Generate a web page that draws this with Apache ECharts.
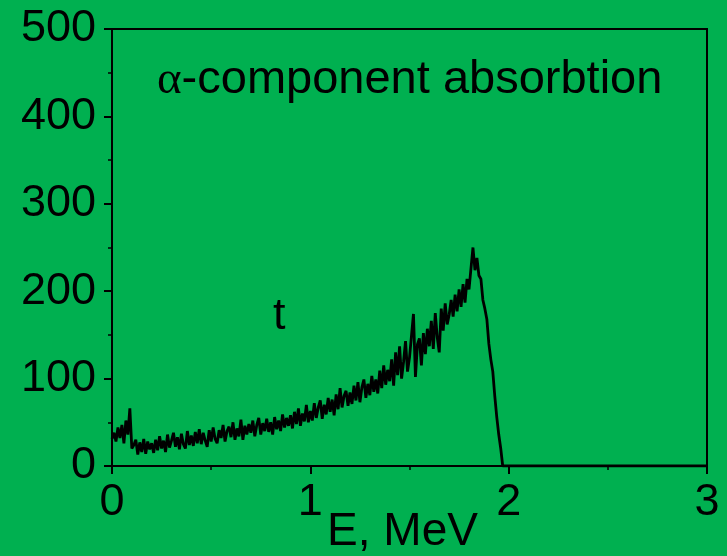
<!DOCTYPE html>
<html>
<head>
    <meta charset="UTF-8">
    <title>alpha-component absorbtion</title>
    <style>
        html, body {
            height: 100%;
            margin: 0;
            padding: 0;
            background: #00b050;
        }
        #chart-container {
            width: 727px;
            height: 556px;
        }
    </style>
</head>
<body>
<div id="chart-container"></div>

<script src="https://cdn.jsdelivr.net/npm/echarts@6/dist/echarts.min.js"></script>
<script>
    // 能谱数据：从 0 MeV 开始，每 0.01 MeV 一个点
    const startE = 0;
    const stepE = 0.01;
    const counts = [
        31, 38, 28, 44, 32, 47, 26, 52, 36, 66,
        20, 24, 30, 13, 27, 16, 31, 14, 28, 19,
        26, 15, 30, 18, 34, 20, 29, 16, 36, 21,
        29, 38, 22, 33, 19, 37, 25, 20, 40, 24,
        35, 23, 39, 26, 42, 25, 38, 29, 22, 41,
        28, 44, 31, 26, 41, 32, 47, 28, 40, 45,
        33, 50, 30, 43, 34, 53, 30, 46, 36, 48,
        38, 52, 34, 47, 55, 36, 49, 40, 54, 39,
        50, 36, 56, 42, 52, 40, 59, 44, 55, 46,
        58, 43, 62, 48, 66, 46, 60, 51, 70, 50,
        63, 52, 72, 55, 67, 75, 54, 70, 59, 78,
        62, 76, 58, 82, 65, 89, 67, 80, 86, 69,
        84, 71, 92, 75, 96, 73, 90, 99, 78, 94,
        81, 103, 85, 99, 83, 109, 89, 115, 93, 110,
        97, 122, 92, 130, 104, 137, 100, 119, 143, 108,
        124, 126, 174, 102, 139, 146, 115, 152, 128, 157,
        137, 166, 134, 175, 147, 130, 180, 155, 186, 162,
        173, 190, 171, 196, 177, 202, 182, 208, 187, 214,
        202, 226, 250, 224, 238, 218, 214, 190, 180, 168,
        140, 122, 108, 80, 56, 36, 20, 0
    ];
    // 2 MeV 以后计数为零
    const tailE = [3];
    const tailCounts = [0];

    const xTicks = [0, 1, 2, 3];
    const yTicks = [0, 100, 200, 300, 400, 500];

    const titleText = '{a|α}-component absorbtion';
    const noteText = 't';
    const xName = 'E, MeV';

    const seriesData = counts.map(function (v, i) {
        return [+(startE + i * stepE).toFixed(2), v];
    });
    tailE.forEach(function (e, i) {
        seriesData.push([e, tailCounts[i]]);
    });

    const chart = echarts.init(document.getElementById('chart-container'));
    const font = 'Liberation Sans, Arial, sans-serif';

    const option = {
        backgroundColor: '#00b050',
        animation: false,
        grid: {
            left: 112,
            right: 20,
            top: 29,
            bottom: 90,
            outerBoundsMode: 'none',
            containLabel: false,
            show: true,
            borderColor: '#000',
            borderWidth: 2,
            backgroundColor: 'transparent'
        },
        xAxis: {
            type: 'value',
            min: xTicks[0],
            max: xTicks[xTicks.length - 1],
            interval: 1,
            name: xName,
            nameLocation: 'middle',
            nameGap: 43,
            nameMoveOverlap: false,
            nameTextStyle: { color: '#000', fontSize: 46, fontFamily: font, padding: [0, 14, 0, 0] },
            axisLine: { lineStyle: { color: '#000', width: 2 } },
            axisTick: { inside: false, length: 8, lineStyle: { color: '#000', width: 2 } },
            minorTick: { show: true, splitNumber: 2, length: 4, lineStyle: { color: '#000', width: 1.5 } },
            splitLine: { show: false },
            axisLabel: { color: '#000', fontSize: 45, fontFamily: font, margin: 14 }
        },
        yAxis: {
            type: 'value',
            min: yTicks[0],
            max: yTicks[yTicks.length - 1],
            interval: 100,
            axisLine: { show: true, lineStyle: { color: '#000', width: 2 } },
            axisTick: { show: true, inside: false, length: 8, lineStyle: { color: '#000', width: 2 } },
            minorTick: { show: true, splitNumber: 2, length: 4, lineStyle: { color: '#000', width: 1.5 } },
            splitLine: { show: false },
            axisLabel: { color: '#000', fontSize: 45, fontFamily: font, margin: 16 }
        },
        graphic: [
            {
                type: 'text',
                left: 157,
                top: 57,
                style: {
                    text: titleText,
                    fill: '#000',
                    font: '47px ' + font,
                    rich: {
                        a: { fontFamily: 'Liberation Serif, Times New Roman, serif', fontSize: 47, fill: '#000' }
                    }
                }
            },
            {
                type: 'text',
                left: 273,
                top: 294,
                style: { text: noteText, fill: '#000', font: '45px ' + font }
            }
        ],
        series: [{
            type: 'line',
            data: seriesData,
            showSymbol: false,
            lineStyle: { color: '#000', width: 2.8 },
            z: 3
        }]
    };

    chart.setOption(option);
</script>
</body>
</html>
